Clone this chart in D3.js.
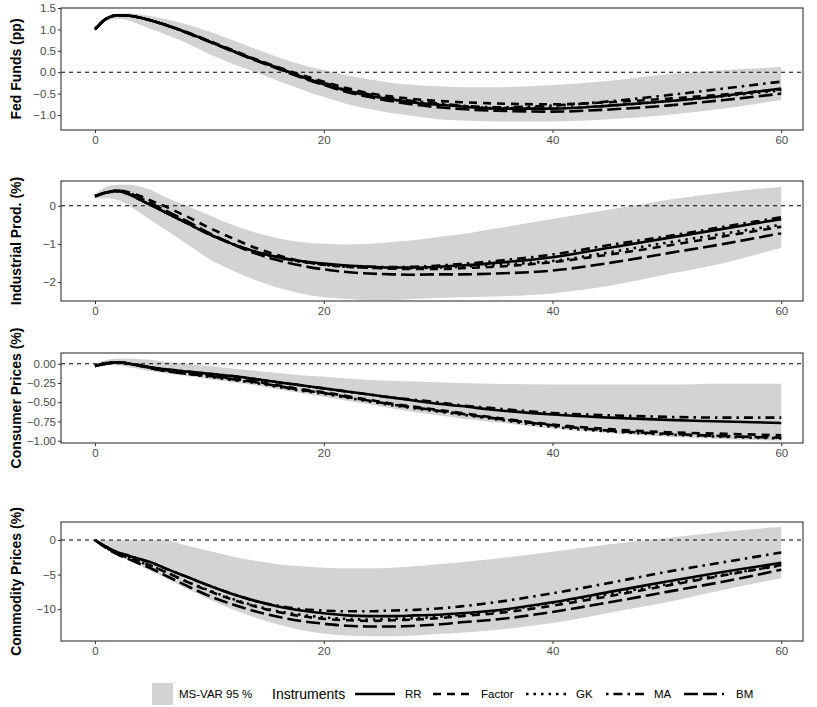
<!DOCTYPE html>
<html><head><meta charset="utf-8">
<script src="https://cdn.jsdelivr.net/npm/d3@7"></script>
<style>body{margin:0;background:#fff;font-family:"Liberation Sans",Arial,sans-serif}</style>
</head><body><svg id="c" width="817" height="707"></svg>
<script>
const horizons=[0,1,2,3,4,5,6,8,10,12,14,16,18,20,22,24,26,28,30,32,35,40,45,50,55,60];
const seriesNames=["RR","Factor","GK","MA","BM"];
const panelTitles=["Fed Funds (pp)","Industrial Prod. (%)","Consumer Prices (%)","Commodity Prices (%)"];
const xTicks=[0,20,40,60];
const yTicksFF=[1.5,1.0,0.5,0.0,-0.5,-1.0];
const yTicksIP=[0,-1,-2];
const yTicksCP=[0.00,-0.25,-0.50,-0.75,-1.00];
const yTicksCM=[0,-5,-10];

const ffLo=[1.0,1.2,1.25,1.2,1.1,1.0,0.9,0.68,0.42,0.2,0.0,-0.2,-0.4,-0.58,-0.74,-0.86,-0.96,-1.03,-1.1,-1.13,-1.15,-1.15,-1.1,-1.0,-0.85,-0.65];
const ffHi=[1.05,1.3,1.37,1.37,1.35,1.3,1.25,1.12,0.95,0.75,0.55,0.35,0.18,0.05,-0.07,-0.17,-0.25,-0.3,-0.33,-0.35,-0.35,-0.3,-0.2,-0.05,0.05,0.12];
const ffRR=[1.0,1.25,1.33,1.32,1.27,1.2,1.12,0.93,0.72,0.5,0.29,0.1,-0.1,-0.28,-0.43,-0.55,-0.64,-0.71,-0.76,-0.8,-0.85,-0.85,-0.78,-0.68,-0.55,-0.38];
const ffFactor=[1.0,1.25,1.33,1.32,1.27,1.2,1.12,0.94,0.73,0.52,0.31,0.12,-0.06,-0.22,-0.37,-0.49,-0.57,-0.63,-0.67,-0.7,-0.73,-0.75,-0.7,-0.62,-0.52,-0.4];
const ffGK=[1.0,1.25,1.33,1.32,1.27,1.2,1.12,0.93,0.72,0.5,0.29,0.1,-0.1,-0.27,-0.42,-0.54,-0.63,-0.7,-0.75,-0.79,-0.84,-0.84,-0.78,-0.68,-0.56,-0.42];
const ffMA=[1.0,1.25,1.33,1.32,1.27,1.2,1.12,0.93,0.72,0.5,0.29,0.1,-0.09,-0.25,-0.4,-0.52,-0.61,-0.68,-0.73,-0.78,-0.82,-0.78,-0.68,-0.54,-0.38,-0.22];
const ffBM=[1.0,1.25,1.33,1.32,1.27,1.2,1.12,0.92,0.71,0.49,0.28,0.08,-0.12,-0.3,-0.46,-0.58,-0.68,-0.76,-0.82,-0.86,-0.9,-0.92,-0.87,-0.78,-0.65,-0.5];

const ipLo=[0.2,0.2,0.15,0.0,-0.2,-0.4,-0.6,-1.0,-1.4,-1.7,-1.95,-2.15,-2.3,-2.4,-2.45,-2.48,-2.48,-2.45,-2.42,-2.4,-2.38,-2.3,-2.1,-1.8,-1.5,-1.1];
const ipHi=[0.3,0.5,0.55,0.55,0.5,0.4,0.25,0.0,-0.25,-0.5,-0.7,-0.85,-0.95,-1.0,-1.02,-1.0,-0.95,-0.9,-0.82,-0.75,-0.6,-0.35,-0.1,0.15,0.35,0.5];
const ipRR=[0.25,0.35,0.38,0.3,0.15,0.0,-0.15,-0.45,-0.75,-1.0,-1.2,-1.35,-1.45,-1.52,-1.57,-1.6,-1.62,-1.62,-1.6,-1.57,-1.5,-1.35,-1.1,-0.85,-0.6,-0.35];
const ipFactor=[0.25,0.35,0.4,0.35,0.25,0.12,0.0,-0.28,-0.58,-0.85,-1.1,-1.3,-1.45,-1.55,-1.6,-1.63,-1.65,-1.66,-1.66,-1.64,-1.6,-1.48,-1.28,-1.05,-0.8,-0.55];
const ipGK=[0.25,0.35,0.38,0.3,0.15,0.0,-0.15,-0.45,-0.75,-1.0,-1.2,-1.36,-1.47,-1.55,-1.6,-1.63,-1.64,-1.64,-1.62,-1.6,-1.55,-1.45,-1.22,-0.97,-0.73,-0.5];
const ipMA=[0.25,0.35,0.38,0.3,0.15,0.0,-0.15,-0.45,-0.75,-1.0,-1.2,-1.35,-1.46,-1.53,-1.58,-1.6,-1.61,-1.6,-1.57,-1.53,-1.45,-1.28,-1.03,-0.8,-0.55,-0.3];
const ipBM=[0.25,0.35,0.4,0.33,0.2,0.05,-0.1,-0.4,-0.72,-1.0,-1.25,-1.43,-1.57,-1.67,-1.74,-1.78,-1.8,-1.81,-1.8,-1.8,-1.78,-1.7,-1.5,-1.25,-1.0,-0.72];

const cpLo=[-0.03,-0.02,-0.02,-0.05,-0.07,-0.1,-0.12,-0.16,-0.2,-0.24,-0.28,-0.33,-0.38,-0.43,-0.48,-0.53,-0.58,-0.63,-0.67,-0.71,-0.76,-0.84,-0.9,-0.95,-0.98,-1.0];
const cpHi=[0.0,0.05,0.07,0.07,0.06,0.05,0.03,0.0,-0.03,-0.06,-0.09,-0.12,-0.15,-0.17,-0.19,-0.21,-0.22,-0.23,-0.24,-0.25,-0.26,-0.27,-0.27,-0.27,-0.26,-0.26];
const cpRR=[-0.03,0.0,0.02,0.0,-0.02,-0.05,-0.07,-0.1,-0.13,-0.16,-0.2,-0.24,-0.28,-0.32,-0.36,-0.4,-0.44,-0.48,-0.52,-0.55,-0.6,-0.66,-0.7,-0.73,-0.75,-0.77];
const cpFactor=[-0.03,0.01,0.02,0.0,-0.03,-0.06,-0.08,-0.12,-0.15,-0.19,-0.23,-0.28,-0.33,-0.37,-0.42,-0.47,-0.52,-0.56,-0.6,-0.64,-0.7,-0.79,-0.85,-0.89,-0.91,-0.93];
const cpGK=[-0.03,0.01,0.02,0.0,-0.03,-0.06,-0.09,-0.13,-0.17,-0.21,-0.25,-0.3,-0.35,-0.39,-0.44,-0.49,-0.54,-0.58,-0.62,-0.66,-0.72,-0.82,-0.88,-0.92,-0.95,-0.97];
const cpMA=[-0.03,0.0,0.02,0.0,-0.02,-0.05,-0.07,-0.1,-0.13,-0.16,-0.2,-0.24,-0.28,-0.32,-0.36,-0.4,-0.44,-0.47,-0.5,-0.54,-0.58,-0.64,-0.67,-0.69,-0.7,-0.7];
const cpBM=[-0.03,0.01,0.02,0.0,-0.03,-0.06,-0.09,-0.13,-0.16,-0.2,-0.24,-0.29,-0.34,-0.38,-0.43,-0.48,-0.53,-0.57,-0.61,-0.65,-0.71,-0.8,-0.87,-0.91,-0.94,-0.96];

const cmLo=[0,-1.2,-2.2,-3,-3.8,-4.6,-5.4,-7,-8.6,-10,-11.2,-12.2,-13,-13.5,-13.8,-13.9,-13.9,-13.8,-13.6,-13.4,-13,-12,-10.5,-9,-7.2,-5.5];
const cmHi=[0,0,0,0,0,0,0,-0.8,-1.6,-2.4,-3.0,-3.5,-3.8,-4.0,-4.1,-4.1,-4.0,-3.8,-3.5,-3.2,-2.7,-1.7,-0.6,0.3,1.2,1.9];
const cmRR=[0,-1,-1.8,-2.3,-2.8,-3.3,-4,-5.3,-6.6,-7.8,-8.8,-9.6,-10.2,-10.6,-10.9,-11.0,-11.0,-10.9,-10.8,-10.6,-10.2,-9.0,-7.5,-6.0,-4.6,-3.3];
const cmFactor=[0,-1.1,-2,-2.6,-3.2,-3.8,-4.5,-6,-7.4,-8.6,-9.6,-10.4,-11,-11.4,-11.6,-11.7,-11.6,-11.5,-11.3,-11.0,-10.6,-9.5,-8.1,-6.6,-5.1,-3.6];
const cmGK=[0,-1.1,-2,-2.6,-3.2,-3.8,-4.5,-6,-7.3,-8.5,-9.5,-10.3,-10.8,-11.2,-11.4,-11.5,-11.4,-11.3,-11.1,-10.8,-10.3,-9.1,-7.8,-6.4,-5,-3.7];
const cmMA=[0,-1,-1.8,-2.3,-2.8,-3.3,-4,-5.3,-6.6,-7.8,-8.8,-9.5,-10,-10.2,-10.3,-10.3,-10.2,-10.1,-9.9,-9.6,-9.0,-7.7,-6.2,-4.6,-3.2,-1.8];
const cmBM=[0,-1.2,-2.1,-2.8,-3.5,-4.2,-5,-6.6,-8.1,-9.3,-10.3,-11.1,-11.7,-12.1,-12.4,-12.5,-12.5,-12.4,-12.2,-11.9,-11.5,-10.4,-9,-7.5,-6,-4.3];

const panels=[
 {title:panelTitles[0],ticks:yTicksFF,fmt:d3.format(".1f"),dom:[-1.35,1.5],top:8,bot:130,lo:ffLo,hi:ffHi,s:[ffRR,ffFactor,ffGK,ffMA,ffBM]},
 {title:panelTitles[1],ticks:yTicksIP,fmt:d3.format("d"),dom:[-2.5,0.65],top:181,bot:301,lo:ipLo,hi:ipHi,s:[ipRR,ipFactor,ipGK,ipMA,ipBM]},
 {title:panelTitles[2],ticks:yTicksCP,fmt:d3.format(".2f"),dom:[-1.03,0.14],top:353,bot:443,lo:cpLo,hi:cpHi,s:[cpRR,cpFactor,cpGK,cpMA,cpBM]},
 {title:panelTitles[3],ticks:yTicksCM,fmt:d3.format("d"),dom:[-14.6,2.6],top:522,bot:641,lo:cmLo,hi:cmHi,s:[cmRR,cmFactor,cmGK,cmMA,cmBM]}
];
const dashes=[null,"8,6","2.5,5","2.5,5,9,5","14,5"];
const lw=2.6;
const svg=d3.select("#c");
const x=d3.scaleLinear().domain([-2.97,61.9]).range([61,803]);
panels.forEach(p=>{
 const y=d3.scaleLinear().domain(p.dom).range([p.bot,p.top]);
 const g=svg.append("g");
 g.append("path").datum(horizons.map((h,i)=>[h,p.lo[i],p.hi[i]]))
  .attr("fill","#d3d3d3")
  .attr("d",d3.area().x(d=>x(d[0])).y0(d=>y(d[1])).y1(d=>y(d[2])).curve(d3.curveMonotoneX));
 g.append("line").attr("x1",61).attr("x2",803).attr("y1",y(0)).attr("y2",y(0))
  .attr("stroke","#000").attr("stroke-width",1.1).attr("stroke-dasharray","4,4");
 p.s.forEach((vals,k)=>{
  g.append("path").datum(horizons.map((h,i)=>[h,vals[i]]))
   .attr("fill","none").attr("stroke","#000").attr("stroke-width",lw)
   .attr("stroke-dasharray",dashes[k])
   .attr("d",d3.line().x(d=>x(d[0])).y(d=>y(d[1])).curve(d3.curveMonotoneX));
 });
 g.append("rect").attr("x",61).attr("y",p.top).attr("width",742).attr("height",p.bot-p.top)
  .attr("fill","none").attr("stroke","#333").attr("stroke-width",1.1);
 const ya=g.append("g").attr("transform","translate(61,0)")
  .call(d3.axisLeft(y).tickValues(p.ticks).tickFormat(p.fmt).tickSize(3).tickPadding(2));
 const xa=g.append("g").attr("transform",`translate(0,${p.bot})`)
  .call(d3.axisBottom(x).tickValues(xTicks).tickSize(3).tickPadding(3));
 [ya,xa].forEach(a=>{a.select(".domain").remove();
  a.selectAll("line").attr("stroke","#333");
  a.selectAll("text").attr("fill","#4d4d4d").style("font-size","11.5px").style("font-family","Liberation Sans, Arial, sans-serif");});
 g.append("text").attr("transform",`translate(21,${(p.top+p.bot)/2}) rotate(-90)`)
  .attr("text-anchor","middle").style("font-size","14px").style("font-weight","bold").text(p.title);
});
// legend
const lg=svg.append("g");
const ly=694;
lg.append("rect").attr("x",152).attr("y",ly-11).attr("width",21).attr("height",22).attr("fill","#d3d3d3");
lg.append("text").attr("x",179).attr("y",ly+4).style("font-size","11.5px").text("MS-VAR 95 %");
lg.append("text").attr("x",272).attr("y",ly+5).style("font-size","14px").text("Instruments");
const keyX=[355,433,526,606,684];
const labX=[405,481,576,654,736];
seriesNames.forEach((n,k)=>{
 lg.append("line").attr("x1",keyX[k]).attr("x2",keyX[k]+40).attr("y1",ly).attr("y2",ly)
  .attr("stroke","#000").attr("stroke-width",lw).attr("stroke-dasharray",dashes[k]);
 lg.append("text").attr("x",labX[k]).attr("y",ly+4).style("font-size","11.5px").text(n);
});
</script></body></html>
